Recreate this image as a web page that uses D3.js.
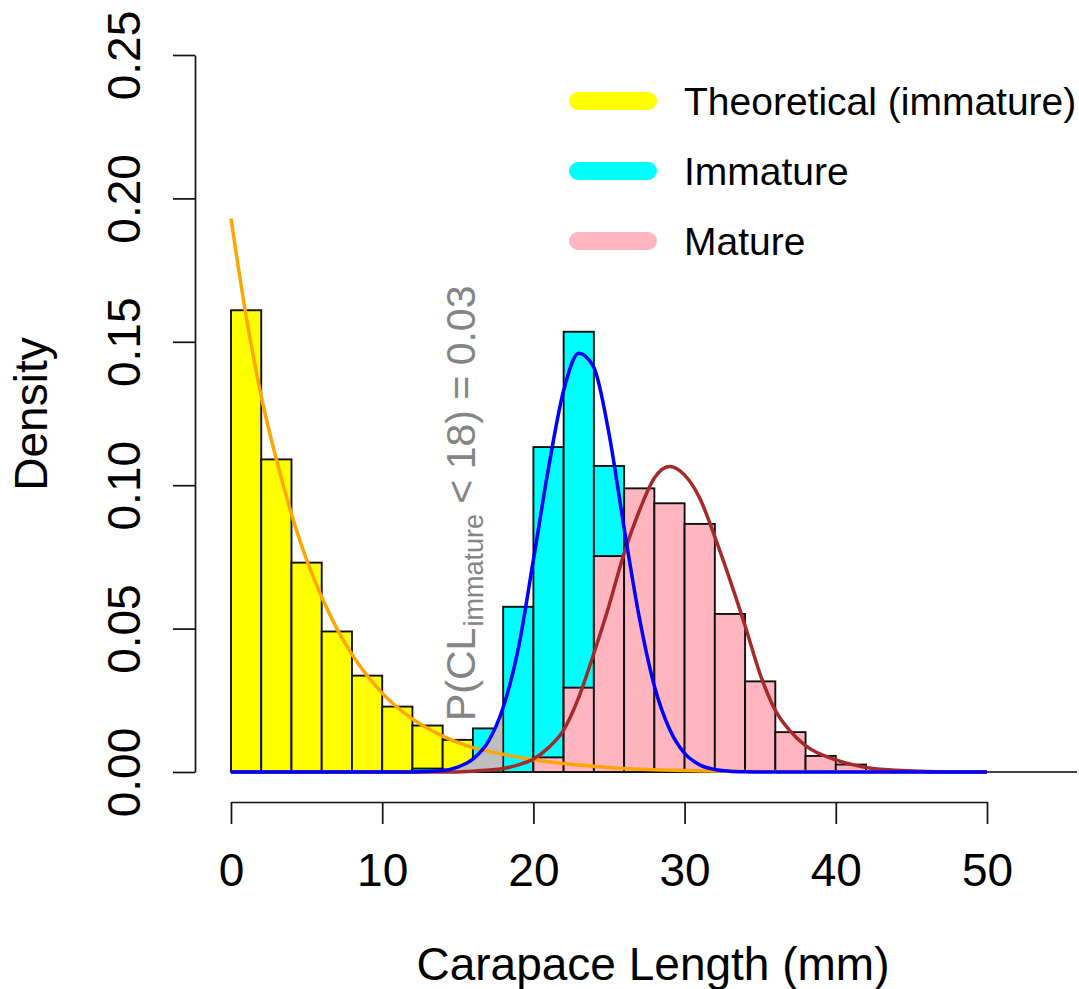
<!DOCTYPE html>
<html>
<head>
<meta charset="utf-8">
<script src="https://cdn.jsdelivr.net/npm/d3@7"></script>
<style>
  body { margin: 0; background: #fff; }
  svg text { font-family: 'Liberation Sans', Arial, sans-serif; }
</style>
</head>
<body>
<div id="chart"></div>
<script>
(function() {
  // histogram bins are 2 mm wide, each array is the left edge of the bin
  var binWidth = 2
  var theoreticalBins = [0, 2, 4, 6, 8, 10, 12, 14]
  var theoreticalDensity = [0.161, 0.109, 0.073, 0.049, 0.0336, 0.0228, 0.0162, 0.0112]
  var immatureBins = [12, 14, 16, 18, 20, 22, 24]
  var immatureDensity = [0.0012, 0.0008, 0.0152, 0.0576, 0.1133, 0.1535, 0.1067]
  var matureBins = [20, 22, 24, 26, 28, 30, 32, 34, 36, 38, 40]
  var matureDensity = [0.0051, 0.0294, 0.0753, 0.0989, 0.0937, 0.0865, 0.0551, 0.0316, 0.0139, 0.0056, 0.0026]

  // fitted curves as [length, density]
  var theoreticalCurve = [[0, 0.193], [1, 0.159], [2, 0.131], [3, 0.109], [4, 0.090], [5, 0.074],
    [6, 0.061], [7, 0.050], [8, 0.041], [10, 0.0275], [12, 0.0185], [14, 0.0125], [16, 0.0085],
    [18, 0.0062], [20, 0.0043], [22, 0.003], [24, 0.002], [26, 0.0012], [28, 0.0008], [30, 0.0005],
    [34, 0.0002], [40, 0.00005], [50, 0]]
  var immatureCurve = [[0, 0], [12, 0], [13, 0.0002], [14, 0.0005], [15, 0.0017], [16, 0.0045],
    [17, 0.0105], [18, 0.0225], [19, 0.043], [20, 0.074], [21, 0.106], [22, 0.133], [23, 0.146],
    [24, 0.141], [25, 0.118], [26, 0.085], [27, 0.054], [28, 0.030], [29, 0.015], [30, 0.0065],
    [31, 0.0025], [32, 0.0009], [33, 0.0003], [34, 0.0001], [36, 0], [50, 0]]
  var matureCurve = [[0, 0], [14, 0], [16, 0.0003], [18, 0.0012], [19, 0.0025], [20, 0.0045],
    [21, 0.0085], [22, 0.0146], [23, 0.026], [24, 0.0414], [25, 0.058], [26, 0.0763], [27, 0.091],
    [28, 0.1025], [29, 0.1065], [30, 0.1035], [31, 0.0955], [32, 0.082], [33, 0.067], [34, 0.051],
    [35, 0.034], [36, 0.0215], [37, 0.0142], [38, 0.0092], [40, 0.0042], [42, 0.0016], [44, 0.0006],
    [46, 0.0002], [48, 0], [50, 0]]
  var cutoff = 18

  var xTicks = [0, 10, 20, 30, 40, 50]
  var yTicks = [0, 0.05, 0.10, 0.15, 0.20, 0.25]
  var legendLabels = ['Theoretical (immature)', 'Immature', 'Mature']
  var legendColors = ['#ffff00', '#00ffff', '#ffb6c1']

  var width = 1079
  var height = 989

  var svg = d3.select('#chart')
    .append('svg')
    .attr('width', width)
    .attr('height', height)

  svg.append('rect')
    .attr('width', width)
    .attr('height', height)
    .attr('fill', '#fff')

  var xPositionScale = d3.scaleLinear().domain([0, 50]).range([231, 987])
  var yPositionScale = d3.scaleLinear().domain([0, 0.25]).range([772, 55])

  // zero line runs off to the right edge
  svg.append('line')
    .attr('x1', xPositionScale(0))
    .attr('x2', 1077)
    .attr('y1', yPositionScale(0))
    .attr('y2', yPositionScale(0))
    .attr('stroke', '#000')
    .attr('stroke-width', 1.6)

  function drawBars(bins, values, fill) {
    svg.append('g')
      .selectAll('rect')
      .data(bins.map((b, i) => ({ start: b, density: values[i] })))
      .enter().append('rect')
      .attr('x', d => xPositionScale(d.start))
      .attr('width', d => xPositionScale(d.start + binWidth) - xPositionScale(d.start))
      .attr('y', d => yPositionScale(d.density))
      .attr('height', d => yPositionScale(0) - yPositionScale(d.density))
      .attr('fill', fill)
      .attr('stroke', '#111')
      .attr('stroke-width', 1.9)
  }

  drawBars(theoreticalBins, theoreticalDensity, '#ffff00')
  drawBars(immatureBins, immatureDensity, '#00ffff')
  drawBars(matureBins, matureDensity, '#ffb6c1')

  // shaded tail of the immature curve below the cutoff
  var area = d3.area()
    .x(d => xPositionScale(d[0]))
    .y0(yPositionScale(0))
    .y1(d => yPositionScale(d[1]))
    .curve(d3.curveMonotoneX)

  svg.append('path')
    .attr('d', area(immatureCurve.filter(d => d[0] <= cutoff)))
    .attr('fill', '#bebebe')
    .attr('stroke', '#000')
    .attr('stroke-width', 1.4)

  var line = d3.line()
    .x(d => xPositionScale(d[0]))
    .y(d => yPositionScale(d[1]))
    .curve(d3.curveMonotoneX)

  svg.append('path')
    .attr('d', line(theoreticalCurve))
    .attr('fill', 'none')
    .attr('stroke', '#ffa500')
    .attr('stroke-width', 3.5)

  svg.append('path')
    .attr('d', line(matureCurve))
    .attr('fill', 'none')
    .attr('stroke', '#a52a2a')
    .attr('stroke-width', 3.5)

  svg.append('path')
    .attr('d', line(immatureCurve))
    .attr('fill', 'none')
    .attr('stroke', '#0000ff')
    .attr('stroke-width', 3.5)

  // axes
  var xAxis = d3.axisBottom(xPositionScale)
    .tickValues(xTicks)
    .tickFormat(d => d)
    .tickSize(22)
    .tickSizeOuter(0)
    .tickPadding(29)

  svg.append('g')
    .attr('transform', 'translate(0,802)')
    .call(xAxis)

  var yAxis = d3.axisLeft(yPositionScale)
    .tickValues(yTicks)
    .tickFormat(d3.format('.2f'))
    .tickSize(22)
    .tickSizeOuter(0)

  var yAxisGroup = svg.append('g')
    .attr('transform', 'translate(195,0)')
    .call(yAxis)

  yAxisGroup.selectAll('text')
    .attr('x', null)
    .attr('dy', null)
    .attr('text-anchor', 'middle')
    .attr('transform', 'translate(-55,0) rotate(-90)')

  svg.selectAll('.domain, .tick line')
    .attr('stroke', '#111')
    .attr('stroke-width', 1.7)

  svg.selectAll('.tick text')
    .attr('fill', '#000')
    .attr('font-size', 46)
    .attr('font-family', 'Liberation Sans, Arial, sans-serif')

  // axis titles
  svg.append('text')
    .text('Carapace Length (mm)')
    .attr('x', 653)
    .attr('y', 980)
    .attr('text-anchor', 'middle')
    .attr('font-size', 46)

  svg.append('text')
    .text('Density')
    .attr('text-anchor', 'middle')
    .attr('font-size', 46)
    .attr('transform', 'translate(47,414) rotate(-90)')

  // probability note, rotated, with a subscript
  var note = svg.append('text')
    .attr('fill', '#858585')
    .attr('font-size', 41)
    .attr('transform', 'translate(475,721) rotate(-90)')

  note.append('tspan').text('P(CL')
  note.append('tspan')
    .text('immature')
    .attr('font-size', 27)
    .attr('dx', 1)
    .attr('dy', 8)
  note.append('tspan')
    .text(' < 18) = 0.03')
    .attr('word-spacing', -1)
    .attr('dy', -8)

  // legend
  var legend = svg.append('g')
    .selectAll('g')
    .data(legendLabels)
    .enter().append('g')
    .attr('transform', (d, i) => `translate(0,${101 + i * 70})`)

  legend.append('line')
    .attr('x1', 578)
    .attr('x2', 648)
    .attr('stroke', (d, i) => legendColors[i])
    .attr('stroke-width', 18)
    .attr('stroke-linecap', 'round')

  legend.append('text')
    .text(d => d)
    .attr('x', 684)
    .attr('y', 14)
    .attr('font-size', 39)
    .attr('fill', '#000')
})()
</script>
</body>
</html>
